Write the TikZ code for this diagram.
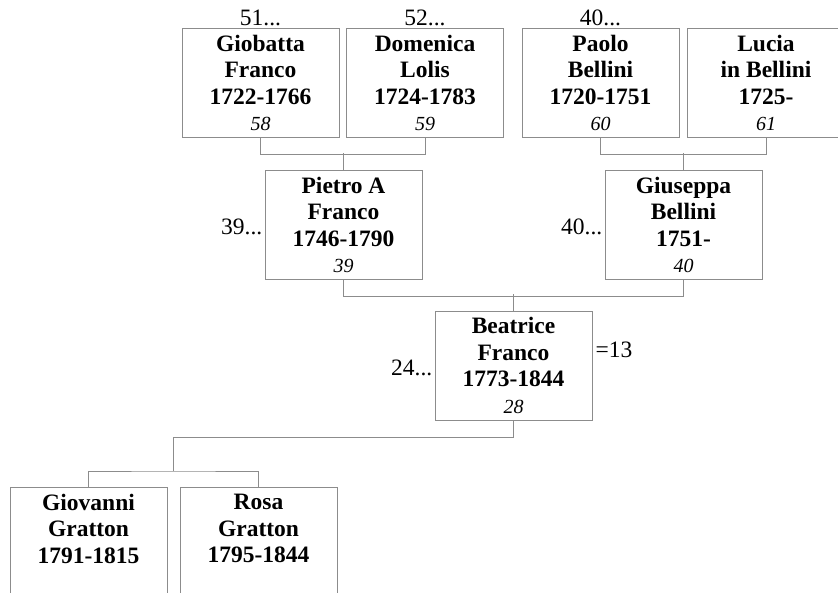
\documentclass[tikz,border=0pt]{standalone}
\usepackage{fontspec}
\setmainfont{Liberation Serif}
\usepackage{tikz}
\usetikzlibrary{calc}
\usetikzlibrary{positioning}
\definecolor{boxgray}{HTML}{8C8C8C}

\tikzset{
  person/.style={draw=boxgray, line width=1pt, anchor=north, minimum width=157pt,
    minimum height=109pt, inner sep=0pt, align=center,
    font=\fontsize{23.5}{26.5}\selectfont\bfseries,
    execute at begin node=\rule{0pt}{19.5pt}},
  link/.style={draw=boxgray, line width=1pt},
  ref/.style={font=\fontsize{23.5}{26.5}\selectfont, inner sep=1pt},
}
\newcommand{\gennum}[1]{{\fontsize{20}{26.5}\selectfont\mdseries\itshape #1}}

\begin{document}
\begin{tikzpicture}[x=1pt,y=-1pt]
\useasboundingbox (0,0) rectangle (838,592);

% grandparents
\node[person] (gio) at (260.5,28) {Giobatta\\Franco\\1722-1766\\\gennum{58}};
\node[person] (dom) at (425,28) {Domenica\\Lolis\\1724-1783\\\gennum{59}};
\node[person] (pao) at (600.5,28) {Paolo\\Bellini\\1720-1751\\\gennum{60}};
\node[person] (luc) at (766,28) {Lucia\\in Bellini\\1725-\\\gennum{61}};
% parents
\node[person] (pie) at (343.5,170) {Pietro A\\Franco\\1746-1790\\\gennum{39}};
\node[person] (giu) at (683.5,170) {Giuseppa\\Bellini\\1751-\\\gennum{40}};
% root
\node[person] (bea) at (513.5,310.5) {Beatrice\\Franco\\1773-1844\\\gennum{28}};
% children
\node[person] (gva) at (88.5,487) {Giovanni\\Gratton\\1791-1815\\\gennum{\phantom{0}}};
\node[person] (ros) at (258.5,487) {Rosa\\Gratton\\1795-1844\\\gennum{\phantom{0}}};

% references
\node[ref, above=1pt of gio] (gio-ref) {51...};
\node[ref, above=1pt of dom] (dom-ref) {52...};
\node[ref, above=1pt of pao] (pao-ref) {40...};
\node[ref, left=1pt of pie, yshift=-2pt] (pie-ref) {39...};
\node[ref, left=1pt of giu, yshift=-2pt] (giu-ref) {40...};
\node[ref, left=1pt of bea, yshift=-2pt] (bea-ref) {24...};
\node[ref, right=2pt of bea, yshift=16pt] (bea-eq) {=13};

% links
\draw[link] (gio.south) -- ++(0,16) -| (dom.south);
\draw[link] (pie.north) -- ++(0,-17);
\draw[link] (pao.south) -- ++(0,16) -| (luc.south);
\draw[link] (giu.north) -- ++(0,-17);
\draw[link] (pie.south) -- ++(0,16) -| (giu.south);
\draw[link] (bea.north) -- ++(0,-16.5);
\coordinate (kids) at ($(gva.north)!0.5!(ros.north)+(0,-16)$);
\draw[link] (bea.south) -- ++(0,17) -| (kids);
\draw[link] (gva.north) |- (kids) -| (ros.north);
\end{tikzpicture}
\end{document}
